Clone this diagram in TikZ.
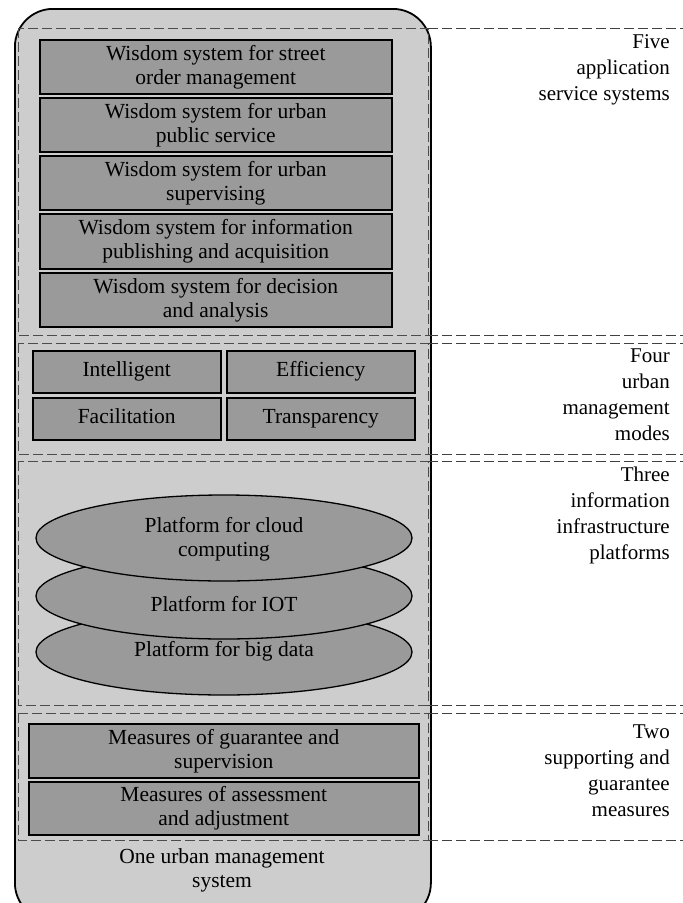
\documentclass[tikz,border=0pt]{standalone}
\usepackage{fontspec}
\setmainfont{Liberation Serif}
\usetikzlibrary{shapes.geometric}
\definecolor{boxgray}{RGB}{154,154,154}
\definecolor{outergray}{RGB}{205,205,205}
\begin{document}
\begin{tikzpicture}[x=1pt,y=-1pt,
  txt/.style={font=\fontsize{21.5}{24}\selectfont, align=center, inner sep=0pt},
  oneline/.style={text height=14.5pt, text depth=4.5pt},
  graybox/.style={draw=black, line width=1.5pt, fill=boxgray, txt},
  platform/.style={ellipse, draw=black, line width=1.3pt, fill=boxgray, minimum width=376pt, minimum height=86pt, inner sep=0pt},
  sect/.style={draw=black!70, dash pattern=on 10pt off 4pt, line width=0.9pt},
  ext/.style={draw=black!75, dash pattern=on 10pt off 4pt, line width=1pt},
  lab/.style={font=\fontsize{21}{26}\selectfont, align=right, anchor=north east, inner sep=0pt}
]
\useasboundingbox (0,0) rectangle (683,903);
\fill[white] (0,0) rectangle (683,903);
% outer system box
\node[draw=black, line width=1.8pt, fill=outergray, rounded corners=38pt, minimum width=416pt, minimum height=912pt, anchor=north west, inner sep=0pt] (outer) at (14,8) {};
% sections
\draw[sect] (18,28) rectangle (428,335);
\draw[sect] (18,343) rectangle (428,454);
\draw[sect] (18,461) rectangle (428,705);
\draw[sect] (18,713) rectangle (428,840);
\foreach \yy in {28,335,343,454,461,705,713,840} {
  \coordinate (l\yy) at (428,\yy);
  \coordinate (r\yy) at (683,\yy);
  \draw[ext] (l\yy) -- (r\yy);
}
% five systems
\node[graybox, minimum width=352pt, minimum height=54pt, anchor=north west] (w1) at (39,39) {Wisdom system for street\\order management};
\node[graybox, minimum width=352pt, minimum height=54pt, anchor=north west] (w2) at (39,97) {Wisdom system for urban\\public service};
\node[graybox, minimum width=352pt, minimum height=54pt, anchor=north west] (w3) at (39,155) {Wisdom system for urban\\supervising};
\node[graybox, minimum width=352pt, minimum height=55pt, anchor=north west] (w4) at (39,213) {Wisdom system for information\\publishing and acquisition};
\node[graybox, minimum width=352pt, minimum height=54pt, anchor=north west] (w5) at (39,272) {Wisdom system for decision\\and analysis};
% four modes
\node[graybox, oneline, minimum width=188pt, minimum height=42pt, anchor=north west] (m1) at (32,350) {Intelligent};
\node[graybox, oneline, minimum width=188pt, minimum height=42pt, anchor=north west] (m2) at (226,350) {Efficiency};
\node[graybox, oneline, minimum width=188pt, minimum height=42pt, anchor=north west] (m3) at (32,397) {Facilitation};
\node[graybox, oneline, minimum width=188pt, minimum height=42pt, anchor=north west] (m4) at (226,397) {Transparency};
% three platforms
\node[platform] (p3) at (224,652) {};
\node[txt, oneline] (p3t) at (224,651) {Platform for big data};
\node[platform] (p2) at (224,596) {};
\node[txt, oneline] (p2t) at (224,606) {Platform for IOT};
\node[platform] (p1) at (224,538) {};
\node[txt] (p1t) at (224,539) {Platform for cloud\\computing};
% two measures
\node[graybox, minimum width=390pt, minimum height=54pt, anchor=north west] (g1) at (28,723) {Measures of guarantee and\\supervision};
\node[graybox, minimum width=390pt, minimum height=53pt, anchor=north west] (g2) at (28,781) {Measures of assessment\\and adjustment};
% bottom label
\node[txt] (one) at (222,870) {One urban management\\system};
% right labels
\node[lab] (t5) at (670,34) {Five\\application\\service systems};
\node[lab] (t4) at (670,349) {Four\\urban\\management\\modes};
\node[lab] (t3) at (670,467) {Three\\information\\infrastructure\\platforms};
\node[lab] (t2) at (670,725) {Two\\supporting and\\guarantee\\measures};
\end{tikzpicture}
\end{document}
